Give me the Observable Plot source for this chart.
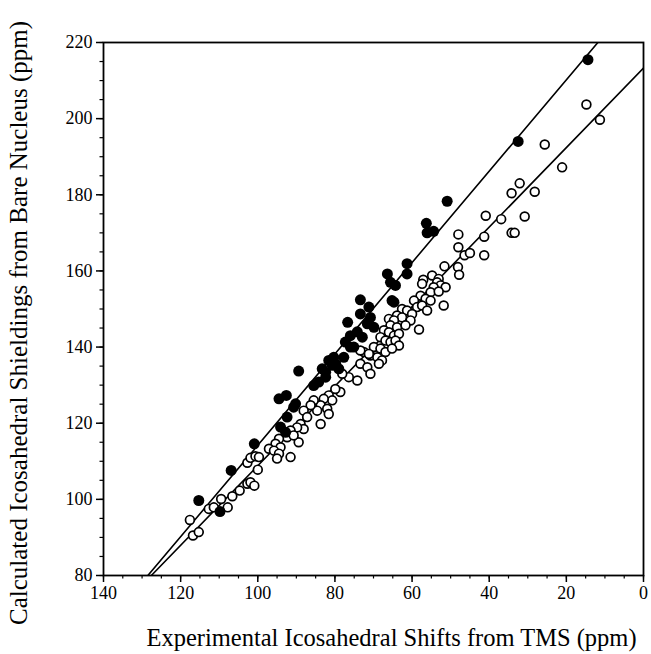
<!DOCTYPE html>
<html><head><meta charset="utf-8">
<script src="https://cdn.jsdelivr.net/npm/d3@7"></script>
<script src="https://cdn.jsdelivr.net/npm/@observablehq/plot@0.6"></script>
<style>body{margin:0;background:#fff}</style>
</head><body><div id="chart"></div>
<script>
// Filled circles (experimental shift, calculated shielding)
const filledX = [14.4,32.5,50.9,56.3,56.1,54.4,61.3,66.4,61.3,65.6,64.3,64.7,73.4,71.2,73.4,71.6,69.9,76.7,74.2,76.0,72.9,77.3,76.0,81.6,79.8,77.7,83.3,82.4,89.4,80.7,79.0,84.2,85.5,82.4,94.5,92.6,90.7,92.4,90.2,94.1,92.8,100.9,106.9,115.3,109.8,75.1,65.2,80.3,70.8];
const filledY = [215.5,194.0,178.3,172.5,170.0,170.4,161.9,159.2,159.2,157.0,156.2,151.8,152.4,150.5,148.7,146.1,145.2,146.5,144.0,143.0,142.6,141.3,140.0,136.5,135.6,137.3,134.3,133.4,133.7,135.2,134.3,130.8,129.9,132.1,126.4,127.3,124.2,121.6,125.1,119.0,117.6,114.6,107.6,99.7,96.8,140.0,152.2,137.3,147.8];
// Open circles
const openX = [14.8,11.3,25.6,21.1,32.1,34.2,28.2,40.9,36.9,30.8,34.2,33.4,48.0,41.3,48.0,46.4,45.0,41.3,51.6,48.1,47.8,54.8,53.1,57.1,57.4,53.5,52.6,54.4,51.3,55.2,53.1,57.8,56.5,55.2,59.5,51.8,58.7,57.4,56.1,62.6,61.3,60.0,63.9,62.6,58.2,60.4,66.0,64.7,65.6,63.9,61.7,67.3,66.0,64.7,63.4,68.2,66.9,65.6,64.3,63.4,69.9,68.2,66.9,65.2,72.5,70.8,69.0,67.8,73.4,71.6,68.6,74.2,70.8,76.4,78.1,78.6,79.9,81.6,80.7,82.9,83.7,82.0,84.6,85.5,86.3,81.6,83.7,88.1,87.2,88.9,88.1,89.8,89.4,91.5,92.4,90.7,94.5,95.4,94.1,97.1,95.8,94.5,91.5,117.6,116.8,115.3,112.7,111.4,109.5,107.8,106.6,104.7,102.7,101.9,100.9,100.0,102.7,101.9,100.6,99.7,95.0,73.4,71.2];
const openY = [203.7,199.7,193.2,187.2,183.0,180.4,180.8,174.5,173.6,174.3,170.0,170.0,169.6,169.0,166.2,164.1,164.7,164.1,161.2,161.0,159.0,158.8,157.9,157.7,156.6,157.0,156.2,155.7,155.7,154.4,154.6,153.5,152.7,152.2,152.2,150.9,150.5,150.9,149.6,150.0,149.6,148.7,148.3,147.8,144.6,147.0,147.4,147.0,145.7,145.2,145.7,144.4,143.9,143.0,143.5,142.6,141.7,141.3,141.7,140.4,140.0,139.6,138.7,139.6,138.7,137.8,137.3,136.5,135.6,134.7,135.6,131.2,133.0,132.1,133.0,128.2,129.0,127.3,126.0,126.4,124.7,123.8,123.3,126.0,124.7,122.4,119.8,123.3,121.6,119.8,118.5,118.9,115.0,118.1,116.3,116.8,115.9,114.6,113.7,113.3,112.8,112.0,111.1,94.6,90.5,91.4,97.5,97.9,100.1,97.9,100.8,102.3,104.1,104.5,103.6,107.8,109.6,110.9,111.3,111.1,110.7,139.1,138.2];
// Fitted lines (endpoints of each regression line)
const fitFilledX = [128.5, 0];
const fitFilledY = [80, 234.2];
const fitOpenX = [127.6, 0];
const fitOpenY = [80, 213.3];
// Ticks and labels
const xMajor = [140,120,100,80,60,40,20,0];
const yMajor = [80,100,120,140,160,180,200,220];
const minorStep = 5;
const xTitle = "Experimental Icosahedral Shifts from TMS (ppm)";
const yTitle = "Calculated Icosahedral Shieldings from Bare Nucleus (ppm)";

const filled = filledX.map((x,i)=>({x, y: filledY[i]}));
const open = openX.map((x,i)=>({x, y: openY[i]}));
const lineF = fitFilledX.map((x,i)=>({x, y: fitFilledY[i]}));
const lineO = fitOpenX.map((x,i)=>({x, y: fitOpenY[i]}));
const xMinor = d3.range(0, 141, minorStep);
const yMinor = d3.range(80, 221, minorStep);

const chart = Plot.plot({
  width: 651, height: 654,
  marginLeft: 103, marginRight: 8, marginTop: 42, marginBottom: 79,
  style: {fontFamily: "Liberation Serif", fontSize: "18px", color: "#000", background: "#fff"},
  x: {domain: [140, 0]},
  y: {domain: [80, 220]},
  marks: [
    Plot.axisX({ticks: xMinor, tickSize: 3.5, tickFormat: () => "", label: null, strokeWidth: 1.2}),
    Plot.axisX({ticks: xMajor, tickSize: 7, tickPadding: 4, fontSize: 18, label: null, strokeWidth: 1.5}),
    Plot.axisY({ticks: yMinor, tickSize: 3.5, tickFormat: () => "", label: null, strokeWidth: 1.2}),
    Plot.axisY({ticks: yMajor, tickSize: 7, tickPadding: 4, fontSize: 18, label: null, strokeWidth: 1.5}),
    Plot.line(lineF, {x: "x", y: "y", stroke: "black", strokeWidth: 1.6, clip: true}),
    Plot.line(lineO, {x: "x", y: "y", stroke: "black", strokeWidth: 1.6, clip: true}),
    Plot.dot(open, {x: "x", y: "y", r: 4.4, fill: "white", stroke: "black", strokeWidth: 1.7}),
    Plot.dot(filled, {x: "x", y: "y", r: 5.5, fill: "black", stroke: "none"}),
    Plot.frame({stroke: "black", strokeWidth: 1.8}),
    Plot.text([xTitle], {frameAnchor: "bottom", dx: 18, dy: 63, fontSize: 24.5, lineAnchor: "middle", textAnchor: "middle", fill: "black"}),
    Plot.text([yTitle], {frameAnchor: "left", dx: -85, dy: 14, rotate: -90, fontSize: 25, lineAnchor: "middle", textAnchor: "middle", fill: "black"})
  ]
});
document.getElementById("chart").appendChild(chart);
</script>
</body></html>
